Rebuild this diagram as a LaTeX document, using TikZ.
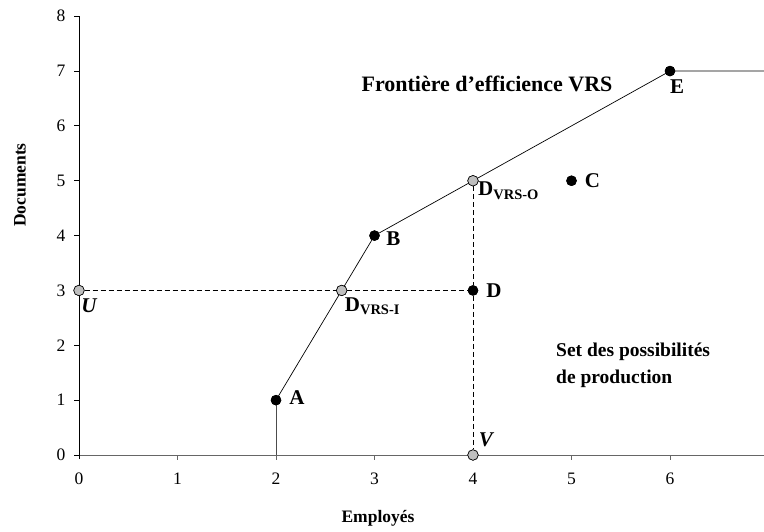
\documentclass[tikz,border=0pt]{standalone}
\usepackage{fontspec}
\setmainfont{Liberation Serif}
\begin{document}
\begin{tikzpicture}[x=98.5pt,y=54.85pt,
  axisline/.style={line width=0.9pt},
  xaxisline/.style={line width=0.9pt,draw=black!60},
  front/.style={line width=0.7pt},
  dashline/.style={line width=0.7pt,dash pattern=on 5pt off 3pt},
  bpt/.style={circle,fill=black,inner sep=0pt,minimum size=10.5pt},
  gpt/.style={circle,fill=black!25,draw=black,line width=0.6pt,inner sep=0pt,minimum size=10.5pt},
  ticklab/.style={font=\fontsize{17.5}{20}\selectfont},
  lab/.style={font=\fontsize{21}{24}\selectfont\bfseries,inner sep=0pt},
  axlab/.style={font=\fontsize{17.5}{21}\selectfont\bfseries,inner sep=0pt},
  big/.style={font=\fontsize{22}{26}\selectfont\bfseries,inner sep=0pt},
  setlab/.style={font=\fontsize{19.5}{27}\selectfont\bfseries,inner sep=0pt}]
\useasboundingbox (-79pt,-76pt) rectangle (685pt,455pt);
% axes
\draw[xaxisline] (0,0) -- (6.955,0);
\draw[axisline] (0,-4pt) -- (0,8);
\foreach \y in {0,...,8}{
  \draw[axisline] (0,\y) -- ++(-5pt,0);
  \node[ticklab] at ([xshift=-18pt]0,\y) {\y};
}
\foreach \x in {1,...,6}{
  \draw[xaxisline] (\x,0) -- ++(0,-5pt);
}
\foreach \x in {0,...,6}{
  \node[ticklab] at ([yshift=-24pt]\x,0) {\x};
}
% frontier
\coordinate (F0) at (2,0);
\coordinate (Fend) at (6.955,7);
\node[bpt] (A) at (2,1) {};
\node[bpt] (B) at (3,4) {};
\node[bpt] (E) at (6,7) {};
\node[bpt] (C) at (5,5) {};
\node[bpt] (D) at (4,3) {};
\node[gpt] (U) at (0,3) {};
\node[gpt] (DI) at (2.6667,3) {};
\node[gpt] (DO) at (4,5) {};
\node[gpt] (V) at (4,0) {};
\draw[front,draw=black!70] (F0) -- (A.center);
\draw[front] (A.center) -- (DI.center) -- (B.center) -- (DO.center) -- (E.center) -- (Fend);
\draw[dashline] (U) -- (DI) -- (D);
\draw[dashline] (DO) -- (D) -- (V);
% redraw points on top
\node[bpt] at (A) {};
\node[bpt] at (B) {};
\node[bpt] at (E) {};
\node[bpt] at (C) {};
\node[bpt] at (D) {};
\node[gpt] at (U) {};
\node[gpt] at (DI) {};
\node[gpt] at (DO) {};
\node[gpt] at (V) {};
% labels
\node[lab] (lA) at ([xshift=21pt,yshift=3pt]A.center) {A};
\node[lab] (lB) at ([xshift=19pt,yshift=-3pt]B.center) {B};
\node[lab] (lC) at ([xshift=21pt]C.center) {C};
\node[lab] (lD) at ([xshift=21pt]D.center) {D};
\node[lab] (lE) at ([xshift=7pt,yshift=-16pt]E.center) {E};
\node[lab,font=\fontsize{21}{24}\selectfont\bfseries\itshape] (lU) at ([xshift=10pt,yshift=-15pt]U.center) {U};
\node[lab,font=\fontsize{21}{24}\selectfont\bfseries\itshape] (lV) at ([xshift=13pt,yshift=15pt]V.center) {V};
\node[lab,anchor=west] (lDI) at ([xshift=3pt,yshift=-16pt]DI.center) {D\raisebox{-0.35ex}{\fontsize{14.5}{16}\selectfont VRS-I}};
\node[lab,anchor=west] (lDO) at ([xshift=5pt,yshift=-10pt]DO.center) {D\raisebox{-0.35ex}{\fontsize{14.5}{16}\selectfont VRS-O}};
\node[big] (tF) at (408pt,371pt) {Frontière d’efficience VRS};
\node[setlab,anchor=north west,align=left] (tS) at (477pt,112pt) {Set des possibilités\\de production};
\node[axlab,rotate=90] (ty) at (-59pt,270pt) {Documents};
\node[axlab] (tx) at (299pt,-63pt) {Employés};
\end{tikzpicture}
\end{document}
